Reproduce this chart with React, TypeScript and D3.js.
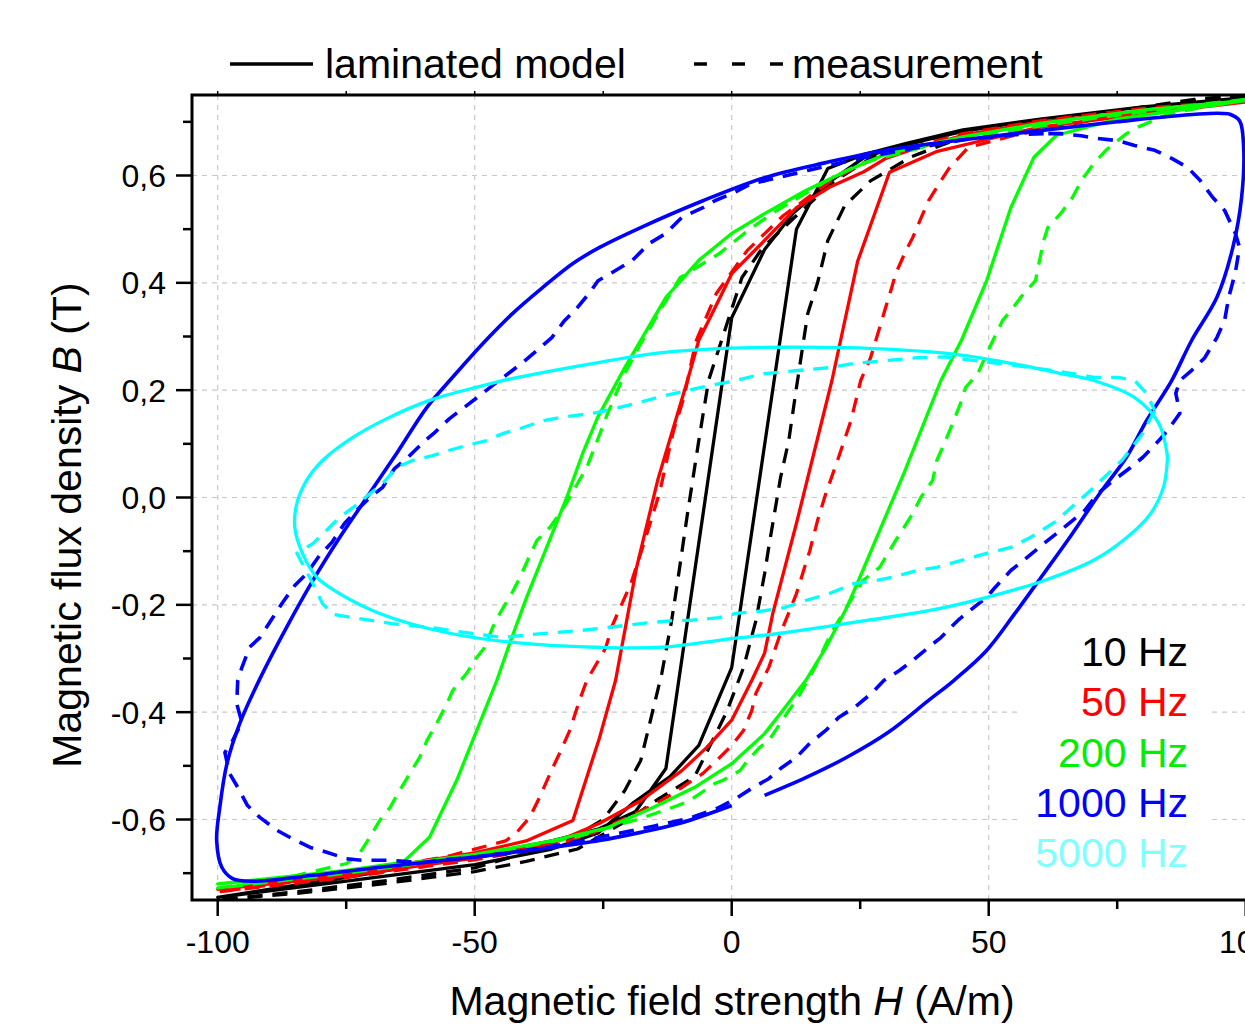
import React from "react";
import * as d3 from "d3";

type P = number[];

const xTicksMajor = [-100, -50, 0, 50, 100];
const xTickLabels = ["-100", "-50", "0", "50", "100"];
const xTicksMinor = [-75, -25, 25, 75];
const yTicksMajor = [-0.6, -0.4, -0.2, 0, 0.2, 0.4, 0.6];
const yTickLabels = ["-0,6", "-0,4", "-0,2", "0,0", "0,2", "0,4", "0,6"];
const yTicksMinor = [-0.7, -0.5, -0.3, -0.1, 0.1, 0.3, 0.5, 0.7];
const gridX = [-100, -50, 0, 50, 100];
const gridY = [-0.6, -0.4, -0.2, 0, 0.2, 0.4, 0.6];

const freqLabels = ["10 Hz", "50 Hz", "200 Hz", "1000 Hz", "5000 Hz"];
const freqColors = ["#000000", "#ff0000", "#00ff00", "#0000ff", "#00ffff"];
const labelColors = ["#000000", "#ff0000", "#00ee00", "#0000ff", "#80ffff"];

// 10 Hz
const model10: P[] = [
  [100, 0.745], [80, 0.728], [60, 0.705], [45, 0.682], [34, 0.658], [26, 0.635], [19.3, 0.59], [12, 0.53], [6.4, 0.462], [0, 0.335],
  [-12.8, -0.505], [-18.7, -0.585], [-26, -0.618], [-35, -0.64], [-50, -0.668], [-75, -0.708], [-100, -0.745],
  [-75, -0.715], [-50, -0.684], [-35, -0.655], [-26, -0.625], [-19.3, -0.57], [-12, -0.52], [-6.4, -0.462], [0, -0.317],
  [12.6, 0.5], [18.7, 0.613], [26, 0.64], [34, 0.66], [45, 0.685], [60, 0.705], [80, 0.728], [100, 0.745],
];
const meas10: P[] = [
  [100, 0.75], [90, 0.74], [75, 0.717], [60, 0.7], [45, 0.682], [35, 0.66], [27, 0.632], [20, 0.59], [12, 0.52], [6, 0.465], [2, 0.41],
  [-4.5, 0.218], [-6.4, 0.106], [-8.6, -0.03], [-10.5, -0.155], [-11.7, -0.23], [-13.6, -0.328], [-17.7, -0.49], [-20.8, -0.546],
  [-25, -0.6], [-31, -0.634], [-40, -0.662], [-50, -0.69], [-68, -0.715], [-85, -0.735], [-100, -0.75],
  [-85, -0.738], [-68, -0.72], [-50, -0.697], [-40, -0.678], [-30, -0.655], [-20, -0.6], [-14, -0.56], [-7.2, -0.52], [-1, -0.4],
  [2.3, -0.317], [4.7, -0.23], [6.4, -0.142], [7.2, -0.093], [9.5, 0.037], [11.1, 0.106], [12.6, 0.205], [13.6, 0.268], [14.8, 0.343],
  [16.7, 0.4], [18.7, 0.479], [22, 0.544], [27, 0.59], [35, 0.635], [45, 0.672], [60, 0.703], [75, 0.72], [90, 0.742], [100, 0.75],
];

// 50 Hz
const model50: P[] = [
  [100, 0.737], [80, 0.72], [60, 0.7], [45, 0.675], [35, 0.648], [30, 0.632], [25.7, 0.607], [19, 0.578], [12.6, 0.54], [6.4, 0.479],
  [0, 0.417], [-3.9, 0.341], [-6.4, 0.293], [-8.6, 0.218], [-14.4, 0.032], [-18.5, -0.13], [-22.6, -0.341], [-25.7, -0.447],
  [-30.9, -0.602], [-40, -0.64], [-50, -0.662], [-75, -0.7], [-100, -0.73],
  [-75, -0.705], [-50, -0.672], [-35, -0.645], [-25.7, -0.607], [-17.7, -0.565], [-9.7, -0.509], [-4.9, -0.466], [0, -0.415],
  [3.9, -0.341], [6.4, -0.29], [8, -0.216], [12.6, -0.048], [19.5, 0.218], [24.5, 0.44], [30.7, 0.606], [40, 0.645], [50, 0.668],
  [60, 0.69], [80, 0.715], [100, 0.737],
];
const meas50: P[] = [
  [100, 0.74], [80, 0.725], [60, 0.702], [45, 0.678], [35, 0.652], [27, 0.628], [20, 0.595], [10, 0.525], [3, 0.46], [-3, 0.38],
  [-7, 0.29], [-9.3, 0.186], [-11.3, 0.125], [-12.5, 0.075], [-14, 0.01], [-16.9, -0.08], [-19.6, -0.16], [-23.3, -0.24],
  [-24.5, -0.28], [-28.2, -0.341], [-29.6, -0.378], [-31.5, -0.434], [-33.5, -0.477], [-34.8, -0.503], [-37.4, -0.559],
  [-39.3, -0.596], [-41.8, -0.624], [-44, -0.64], [-55, -0.668], [-75, -0.703], [-100, -0.735],
  [-75, -0.708], [-50, -0.675], [-35, -0.65], [-27, -0.625], [-21.6, -0.602], [-15.4, -0.574], [-11.3, -0.551], [-8.6, -0.533],
  [-5.6, -0.514], [-2.9, -0.49], [0, -0.462], [2.3, -0.434], [3.9, -0.397], [4.7, -0.365], [7.2, -0.317], [9.5, -0.253],
  [12.6, -0.179], [15.2, -0.099], [16.7, -0.043], [18.3, 0.007], [20.8, 0.075], [23.2, 0.143], [25.1, 0.218], [27, 0.26],
  [28.8, 0.317], [29.6, 0.343], [31.1, 0.39], [31.9, 0.417], [33.9, 0.46], [35.2, 0.484], [36.8, 0.52], [38.3, 0.553],
  [40.7, 0.59], [42.4, 0.615], [46, 0.652], [55, 0.675], [75, 0.712], [100, 0.74],
];

// 200 Hz
const model200: P[] = [
  [100, 0.74], [80, 0.722], [60, 0.697], [45, 0.672], [30, 0.64], [22.4, 0.609], [14.4, 0.572], [6.4, 0.529], [0, 0.492],
  [-6.4, 0.442], [-12.8, 0.373], [-20.8, 0.242], [-26.1, 0.149], [-29, 0.082], [-32.1, 0], [-36, -0.093], [-39.9, -0.186],
  [-43.2, -0.272], [-45.7, -0.341], [-50.4, -0.453], [-53.5, -0.527], [-58.8, -0.633], [-64, -0.68], [-75, -0.695], [-100, -0.72],
  [-75, -0.697], [-50, -0.665], [-35, -0.64], [-24.1, -0.615], [-15.4, -0.578], [-7.2, -0.54], [0, -0.496], [6.4, -0.44],
  [9.5, -0.402], [14.4, -0.341], [18.3, -0.28], [22.4, -0.205], [25.5, -0.136], [29.6, -0.043], [33.5, 0.045], [40.7, 0.218],
  [44.7, 0.293], [49.6, 0.404], [54.3, 0.54], [58.8, 0.634], [63.2, 0.675], [75, 0.705], [100, 0.74],
];
const meas200: P[] = [
  [100, 0.742], [85, 0.725], [70, 0.706], [55, 0.685], [40, 0.66], [25, 0.622], [17.5, 0.585], [8, 0.53], [3.1, 0.497],
  [-2.5, 0.454], [-10, 0.41], [-13.6, 0.354], [-18.1, 0.28], [-20.8, 0.231], [-24, 0.16], [-26, 0.11], [-28.2, 0.056],
  [-30, 0.026], [-31.5, 0], [-33.5, -0.03], [-35.3, -0.055], [-37.9, -0.08], [-39.7, -0.117], [-41.2, -0.149], [-42.8, -0.179],
  [-45.1, -0.216], [-46.5, -0.242], [-48.1, -0.28], [-49.6, -0.298], [-51.6, -0.328], [-54.3, -0.36], [-55.4, -0.384],
  [-57.4, -0.421], [-59.3, -0.453], [-60.7, -0.484], [-62.6, -0.514], [-64.6, -0.546], [-66.5, -0.578], [-68.5, -0.602],
  [-70.4, -0.633], [-72.4, -0.663], [-74.9, -0.682], [-85, -0.705], [-100, -0.728],
  [-75, -0.7], [-50, -0.668], [-30, -0.632], [-17.7, -0.598], [-10.5, -0.574], [-8.2, -0.565], [-3.3, -0.533], [-1.7, -0.527],
  [1.6, -0.509], [3.1, -0.49], [5.4, -0.466], [7.2, -0.453], [11.1, -0.397], [12.6, -0.378], [16, -0.32], [19.5, -0.25],
  [23.9, -0.18], [25.5, -0.155], [28.8, -0.13], [30.4, -0.104], [31.9, -0.08], [33.5, -0.056], [35.2, -0.03], [36.8, 0],
  [39.1, 0.032], [39.9, 0.069], [41.6, 0.106], [43.2, 0.143], [44.7, 0.18], [45.5, 0.205], [47.9, 0.231], [49.6, 0.268],
  [52.7, 0.33], [54.3, 0.348], [56.8, 0.38], [59.1, 0.404], [59.9, 0.442], [60.7, 0.479], [61.5, 0.503], [64, 0.529],
  [66.3, 0.559], [68, 0.59], [70.4, 0.622], [72.8, 0.647], [76.8, 0.678], [79, 0.69], [85, 0.715], [100, 0.742],
];

// 1000 Hz (NaN marks a gap in the curve)
const model1000: P[] = [
  [96.7, 0.715], [94.4, 0.716], [85, 0.71], [75, 0.7], [62, 0.686], [46.3, 0.668], [30.4, 0.648], [18.3, 0.624], [6.4, 0.596],
  [-5.6, 0.553], [-17.7, 0.503], [-25.7, 0.466], [-30.9, 0.436], [-36.8, 0.391], [-42.6, 0.343], [-48.4, 0.287], [-54.3, 0.224],
  [-59.3, 0.168], [-65.2, 0.082], [-71, 0], [-76.3, -0.075], [-81.5, -0.155], [-86.6, -0.242], [-91.8, -0.338], [-95.7, -0.421],
  [-98.2, -0.496], [-99.6, -0.578], [-100.2, -0.639], [-99.2, -0.689], [-97.1, -0.71], [-93.2, -0.715],
  [-81.5, -0.704], [-68.5, -0.689], [-50, -0.67], [-35, -0.652], [-25.7, -0.639], [-17.7, -0.624], [-9.7, -0.606], [0, -0.574],
  [NaN, NaN],
  [6.4, -0.555], [14.4, -0.522], [22.4, -0.484], [30.4, -0.438], [38.3, -0.378], [43.2, -0.341], [49.6, -0.285], [55.1, -0.216],
  [60.7, -0.142], [66.3, -0.067], [72, 0.013], [76.8, 0.075], [80.7, 0.143], [85.6, 0.218], [89.5, 0.293], [94.4, 0.373],
  [97.5, 0.466], [99.2, 0.559], [99.6, 0.652], [98.8, 0.702], [96.7, 0.715],
];
const meas1000: P[] = [
  [60.7, 0.678], [55, 0.676], [46, 0.668], [35, 0.65], [25, 0.632], [15, 0.61], [6.4, 0.59], [3.9, 0.585], [0, 0.566],
  [-3.3, 0.553], [-5.6, 0.54], [-9.7, 0.522], [-12.8, 0.492], [-16.1, 0.473], [-19.3, 0.442], [-22.6, 0.423], [-26, 0.404],
  [-27.6, 0.382], [-30.2, 0.352], [-32.5, 0.33], [-35, 0.298], [-37.4, 0.278], [-40.7, 0.251], [-43.2, 0.233], [-46.5, 0.209],
  [-49, 0.19], [-52.3, 0.166], [-54.9, 0.147], [-57.8, 0.121], [-60.1, 0.102], [-63.2, 0.073], [-65.6, 0.054], [-67.9, 0.019],
  [-70.4, 0], [-73, -0.024], [-75.3, -0.048], [-77.8, -0.084], [-80.2, -0.108], [-82.7, -0.142], [-85, -0.164], [-87.4, -0.196],
  [-89.3, -0.224], [-91.8, -0.261], [-93.8, -0.279], [-95.3, -0.317], [-96.1, -0.341], [-96.3, -0.384], [-95.3, -0.419],
  [-97.1, -0.453], [-98.6, -0.475], [-97.7, -0.514], [-96.1, -0.54], [-94.2, -0.574], [-91.8, -0.596], [-88.5, -0.62],
  [-86, -0.633], [-82, -0.652], [-78.8, -0.661], [-75, -0.673], [-71.8, -0.676], [-67, -0.676], [-60, -0.68], [-56.8, -0.676],
  [-45, -0.665], [-35, -0.65], [-25.7, -0.633], [-15, -0.612], [-8, -0.597], [-2.5, -0.578], [0.8, -0.561], [3.9, -0.542],
  [7.2, -0.524], [9.5, -0.505], [12.6, -0.484], [15.2, -0.458], [18.3, -0.434], [20.8, -0.41], [23.9, -0.391], [27.2, -0.365],
  [29.6, -0.341], [32.7, -0.322], [35.2, -0.304], [38.3, -0.279], [40.7, -0.261], [44, -0.229], [46.3, -0.211], [49.6, -0.186],
  [51.2, -0.168], [54.3, -0.136], [56.8, -0.117], [60.7, -0.086], [63.2, -0.067], [66.3, -0.043], [68.7, -0.024], [71.2, 0.007],
  [73.5, 0.026], [77.6, 0.056], [80, 0.075], [83.1, 0.106], [84.8, 0.125], [87.2, 0.157], [86.4, 0.194], [87.2, 0.218],
  [89.5, 0.237], [92, 0.26], [94.4, 0.298], [95.9, 0.33], [96.7, 0.373], [98, 0.42], [98.8, 0.466], [98, 0.492], [95.9, 0.535],
  [93.6, 0.559], [91.2, 0.59], [88.7, 0.615], [85.6, 0.632], [82.3, 0.647], [78.4, 0.656], [75.1, 0.665], [71.2, 0.669],
  [68, 0.674], [64, 0.678], [60.7, 0.678],
];

// 5000 Hz
const model5000: P[] = [
  [84.8, 0.075], [83.1, 0.138], [78.4, 0.186], [70.4, 0.218], [64, 0.231], [54.3, 0.25], [42.4, 0.268], [26.3, 0.278],
  [10.3, 0.28], [-1.7, 0.278], [-13.6, 0.27], [-25.7, 0.252], [-43, 0.221], [-49, 0.207], [-58.8, 0.181], [-67.1, 0.147],
  [-73.7, 0.112], [-79.6, 0.069], [-82.7, 0.032], [-84.6, -0.011], [-85, -0.056], [-83.5, -0.104], [-80.7, -0.149],
  [-76.3, -0.179], [-68.5, -0.216], [-55.4, -0.252], [-42.6, -0.27], [-26.3, -0.279], [-13.6, -0.279], [0, -0.263],
  [10.3, -0.252], [26.3, -0.229], [38.3, -0.211], [49.6, -0.186], [60.7, -0.155], [70.4, -0.117], [76.8, -0.075],
  [81.5, -0.03], [84, 0.019], [84.8, 0.075],
];
const meas5000: P[] = [
  [82.3, 0.162], [80, 0.12], [76, 0.07], [70, 0.015], [63, -0.045], [58, -0.075], [54.3, -0.093], [49.6, -0.104], [44.7, -0.117],
  [39.9, -0.13], [36, -0.136], [31.1, -0.149], [28, -0.155], [23.9, -0.16], [19, -0.179], [14.4, -0.192], [10.3, -0.205],
  [6.4, -0.211], [0.8, -0.216], [-2.5, -0.224], [-8.2, -0.229], [-11.3, -0.229], [-17.7, -0.235], [-25.7, -0.244],
  [-29.6, -0.248], [-39.9, -0.256], [-44.6, -0.261], [-51.6, -0.252], [-58.8, -0.242], [-66.1, -0.235], [-73.7, -0.224],
  [-77.5, -0.218], [-79.6, -0.198], [-81.5, -0.16], [-84.6, -0.104], [-81.5, -0.086], [-78.8, -0.061], [-76.3, -0.037],
  [-73.7, -0.019], [-70.4, 0.007], [-67.9, 0.026], [-65.2, 0.056], [-62.1, 0.069], [-58.2, 0.078], [-54.9, 0.088],
  [-51.6, 0.097], [-47.7, 0.106], [-44.6, 0.119], [-40.7, 0.13], [-36.8, 0.143], [-33.5, 0.149], [-30.2, 0.153], [-26.3, 0.158],
  [-20, 0.172], [-13, 0.19], [-6, 0.205], [0.8, 0.218], [6.4, 0.231], [19, 0.242], [23.9, 0.25], [36.8, 0.261], [41.4, 0.262],
  [50, 0.252], [58.4, 0.242], [62.3, 0.237], [66.3, 0.231], [70.4, 0.224], [75.1, 0.224], [78.4, 0.218], [80.7, 0.194],
  [82.3, 0.162],
];

const seriesList = [
  { data: meas10, color: 0, dashed: true, smooth: false },
  { data: model10, color: 0, dashed: false, smooth: false },
  { data: meas50, color: 1, dashed: true, smooth: false },
  { data: model50, color: 1, dashed: false, smooth: false },
  { data: meas200, color: 2, dashed: true, smooth: false },
  { data: model200, color: 2, dashed: false, smooth: false },
  { data: meas1000, color: 3, dashed: true, smooth: false },
  { data: model1000, color: 3, dashed: false, smooth: true },
  { data: meas5000, color: 4, dashed: true, smooth: false },
  { data: model5000, color: 4, dashed: false, smooth: true },
];

export default function App() {
  const left = 192, top = 95, bottom = 900;
  const x = d3.scaleLinear().domain([-105, 105]).range([left, 1271.4]);
  const y = d3.scaleLinear().domain([-0.75, 0.75]).range([bottom, top]);
  const right = x(105);
  const lin = d3.line<P>().defined((d) => !isNaN(d[0])).x((d) => x(d[0])).y((d) => y(d[1]));
  const smooth = d3
    .line<P>()
    .defined((d) => !isNaN(d[0]))
    .x((d) => x(d[0]))
    .y((d) => y(d[1]))
    .curve(d3.curveCatmullRom.alpha(0.5));
  const font = "'Liberation Sans', Arial, Helvetica, sans-serif";

  return (
    <svg
      width={1245}
      height={1028}
      style={{ position: "absolute", left: 0, top: 0, background: "#fff" }}
      fontFamily={font}
    >
      <defs>
        <clipPath id="plotclip">
          <rect x={left} y={top} width={right - left} height={bottom - top} />
        </clipPath>
      </defs>
      <rect x={0} y={0} width={1245} height={1028} fill="#fff" />
      {/* grid */}
      <g stroke="#c8c8c8" strokeWidth={1.2} strokeDasharray="5,5">
        {gridX.map((v) => (
          <line key={"gx" + v} x1={x(v)} x2={x(v)} y1={top} y2={bottom} />
        ))}
        {gridY.map((v) => (
          <line key={"gy" + v} x1={left} x2={right} y1={y(v)} y2={y(v)} />
        ))}
      </g>
      {/* legend background for frequency labels */}
      <rect x={1020} y={622} width={188} height={258} fill="#fff" />
      {/* data */}
      <g clipPath="url(#plotclip)" fill="none" strokeLinejoin="round">
        {seriesList.map((s, i) => (
          <path
            key={i}
            d={(s.smooth ? smooth : lin)(s.data) || ""}
            stroke={freqColors[s.color]}
            strokeWidth={s.color === 3 ? 3.6 : 3.3}
            strokeDasharray={s.dashed ? "15,10" : undefined}
          />
        ))}
      </g>
      {/* frame */}
      <rect x={left} y={top} width={right - left} height={bottom - top} fill="none" stroke="#000" strokeWidth={3} />
      {/* ticks */}
      <g stroke="#000" strokeWidth={2.5}>
        {xTicksMajor.map((v) => (
          <line key={"xt" + v} x1={x(v)} x2={x(v)} y1={bottom} y2={bottom + 16} />
        ))}
        {xTicksMinor.map((v) => (
          <line key={"xm" + v} x1={x(v)} x2={x(v)} y1={bottom} y2={bottom + 9} />
        ))}
        {xTicksMajor.concat(xTicksMinor).map((v) => (
          <line key={"xtt" + v} x1={x(v)} x2={x(v)} y1={top} y2={top - 4} strokeWidth={1.5} />
        ))}
        {yTicksMajor.map((v) => (
          <line key={"yt" + v} x1={left - 16} x2={left} y1={y(v)} y2={y(v)} />
        ))}
        {yTicksMinor.map((v) => (
          <line key={"ym" + v} x1={left - 9} x2={left} y1={y(v)} y2={y(v)} />
        ))}
      </g>
      {/* tick labels */}
      <g fontSize={32} fill="#000">
        {xTicksMajor.map((v, i) => (
          <text key={"xl" + v} x={x(v)} y={953} textAnchor="middle">
            {xTickLabels[i]}
          </text>
        ))}
        {yTicksMajor.map((v, i) => (
          <text key={"yl" + v} x={166} y={y(v) + 11.5} textAnchor="end">
            {yTickLabels[i]}
          </text>
        ))}
      </g>
      {/* axis titles */}
      <text x={732} y={1015} textAnchor="middle" fontSize={41} fill="#000">
        Magnetic field strength <tspan fontStyle="italic">H</tspan> (A/m)
      </text>
      <text transform="translate(81,525) rotate(-90)" textAnchor="middle" fontSize={41} fill="#000">
        Magnetic flux density <tspan fontStyle="italic">B</tspan> (T)
      </text>
      {/* top legend */}
      <line x1={230} x2={313} y1={64} y2={64} stroke="#000" strokeWidth={3.3} />
      <text x={325} y={78} fontSize={41} fill="#000">laminated model</text>
      <line x1={694} x2={784} y1={64} y2={64} stroke="#000" strokeWidth={3.3} strokeDasharray="13,25" />
      <text x={792} y={78} fontSize={41} fill="#000">measurement</text>
      {/* frequency legend */}
      {freqLabels.map((t, i) => (
        <text key={t} x={1188} y={666 + i * 50.3} textAnchor="end" fontSize={41} fill={labelColors[i]}>
          {t}
        </text>
      ))}
    </svg>
  );
}
